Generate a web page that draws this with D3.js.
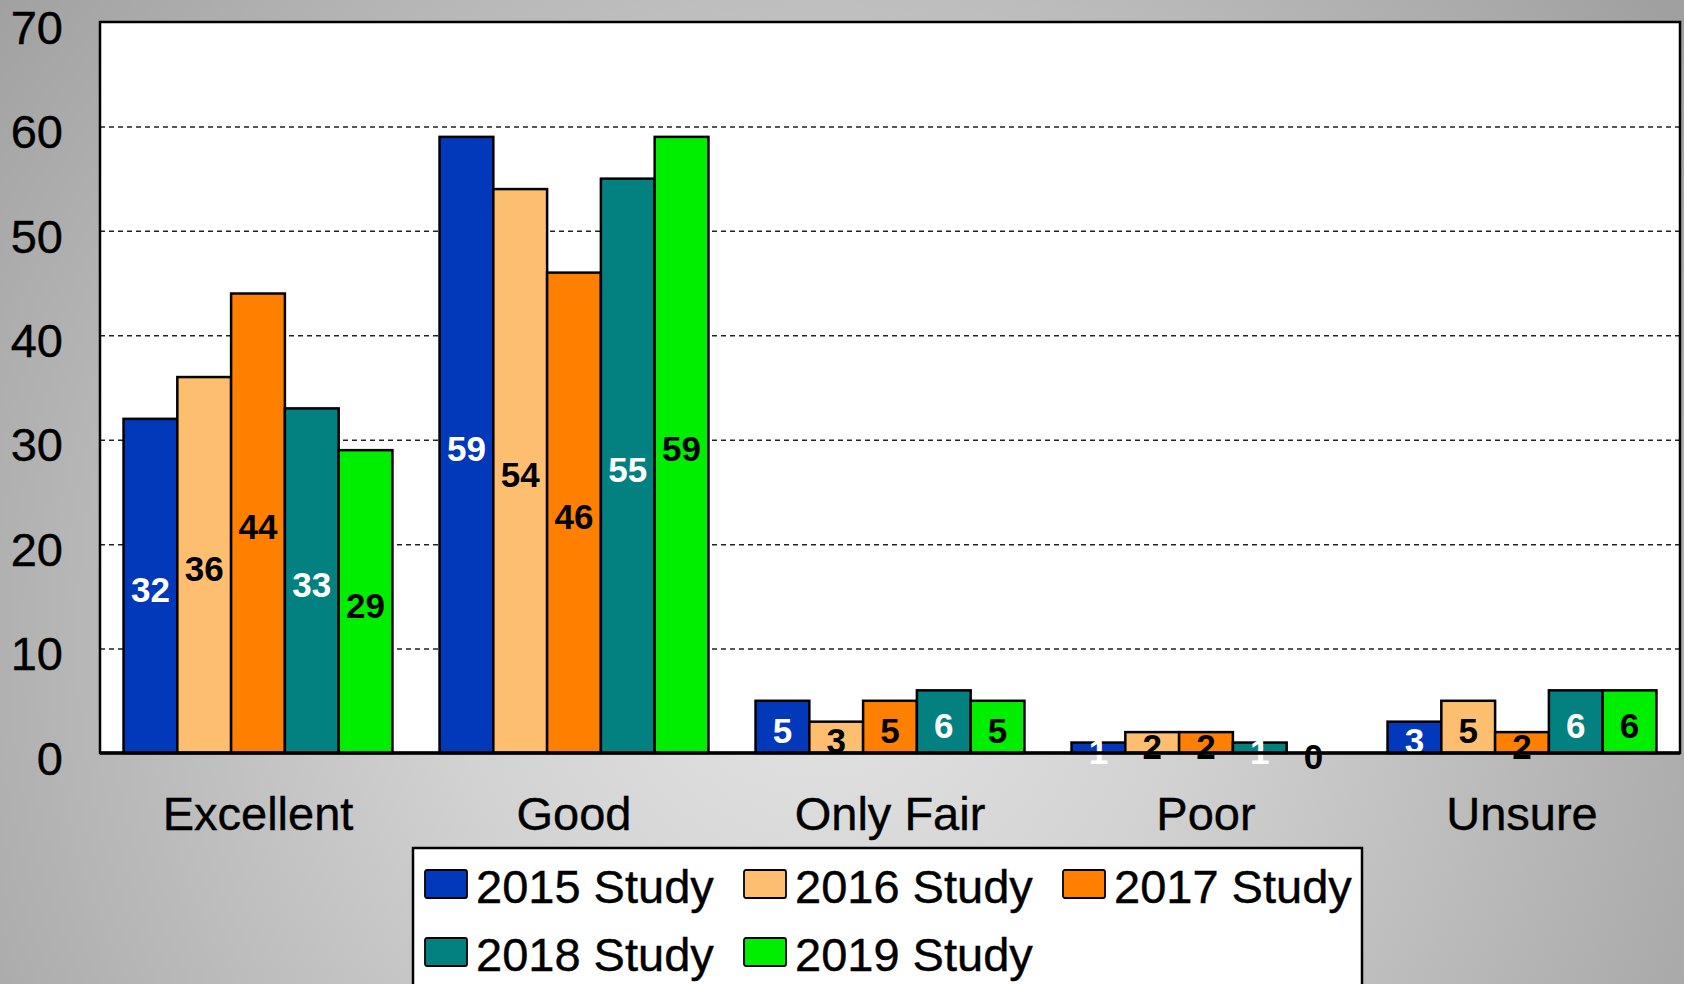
<!DOCTYPE html>
<html>
<head>
    <meta charset="UTF-8">
    <title>Study ratings 2015-2019</title>
    <script src="https://d3js.org/d3.v7.min.js"></script>
    <style>
        body { margin: 0; padding: 0; overflow: hidden; }
        svg { display: block; font-family: Arial, "Liberation Sans", sans-serif; }
        .grid line { stroke: #222; stroke-width: 1.5px; stroke-dasharray: 5 4; }
        .grid path { display: none; }
        .axis path { display: none; }
        .axis text { font-size: 47px; fill: #000; stroke: #000; stroke-width: 0.4px; }
        .val { font-size: 35px; font-weight: bold; text-anchor: middle; }
        .leg text { font-size: 47px; fill: #000; stroke: #000; stroke-width: 0.4px; }
    </style>
</head>
<body>
<svg id="chart" width="1684" height="984"></svg>
<script>
    // 数据
    const categories = ["Excellent", "Good", "Only Fair", "Poor", "Unsure"];
    const series = ["2015 Study", "2016 Study", "2017 Study", "2018 Study", "2019 Study"];
    const values2015 = [32, 59, 5, 1, 3];
    const values2016 = [36, 54, 3, 2, 5];
    const values2017 = [44, 46, 5, 2, 2];
    const values2018 = [33, 55, 6, 1, 6];
    const values2019 = [29, 59, 5, 0, 6];
    const yTicks = [0, 10, 20, 30, 40, 50, 60, 70];

    const colors = ["#0238BA", "#FDBF6F", "#FF8000", "#038080", "#00EE00"];
    const labelColors = ["#fff", "#000", "#000", "#fff", "#000"];
    const seriesValues = [values2015, values2016, values2017, values2018, values2019];

    const svg = d3.select("#chart");
    const W = 1684, H = 984;
    const plot = { left: 100, top: 22, right: 1680, bottom: 753 };

    // 背景渐变
    const defs = svg.append("defs");
    const grad = defs.append("radialGradient")
        .attr("id", "bg").attr("gradientUnits", "userSpaceOnUse")
        .attr("cx", 820).attr("cy", 640).attr("r", 1050);
    grad.append("stop").attr("offset", "0%").attr("stop-color", "#e4e4e4");
    grad.append("stop").attr("offset", "35%").attr("stop-color", "#d2d2d2");
    grad.append("stop").attr("offset", "100%").attr("stop-color", "#a0a0a0");
    svg.append("rect").attr("width", W).attr("height", H).attr("fill", "url(#bg)");

    // 比例尺
    const x0 = d3.scaleBand(categories, [plot.left, plot.right])
        .paddingInner(0.149).paddingOuter(0.0745);
    const x1 = d3.scaleBand(series, [0, x0.bandwidth()]);
    const y = d3.scaleLinear([0, 70], [plot.bottom, plot.top]);

    // 绘图区
    svg.append("rect")
        .attr("x", plot.left).attr("y", y(70))
        .attr("width", plot.right - plot.left).attr("height", y(0) - y(70))
        .attr("fill", "#fff");

    // 网格线
    svg.append("g").attr("class", "grid")
        .attr("transform", `translate(${plot.left},0)`)
        .call(d3.axisLeft(y).tickValues(yTicks.slice(1, -1)).tickSize(-(plot.right - plot.left)).tickFormat(""));

    // 柱
    const rows = categories.map((c, i) => ({
        cat: c,
        vals: series.map((s, j) => ({ s, j, v: seriesValues[j][i] }))
    }));

    const groups = svg.append("g").selectAll("g")
        .data(rows).join("g")
        .attr("transform", d => `translate(${x0(d.cat)},0)`);

    groups.selectAll("rect")
        .data(d => d.vals.filter(e => e.v > 0)).join("rect")
        .attr("x", d => x1(d.s))
        .attr("y", d => y(d.v))
        .attr("width", x1.bandwidth())
        .attr("height", d => y(0) - y(d.v))
        .attr("fill", d => colors[d.j])
        .attr("stroke", "#000")
        .attr("stroke-width", 2.5);

    // 边框
    svg.append("rect")
        .attr("x", plot.left).attr("y", y(70))
        .attr("width", plot.right - plot.left).attr("height", y(0) - y(70))
        .attr("fill", "none").attr("stroke", "#000").attr("stroke-width", 2.5);
    svg.append("line")
        .attr("x1", plot.left).attr("x2", plot.right)
        .attr("y1", y(0)).attr("y2", y(0))
        .attr("stroke", "#000").attr("stroke-width", 3.5);

    // 数值标签
    groups.selectAll("text")
        .data(d => d.vals).join("text")
        .attr("class", "val")
        .attr("x", d => x1(d.s) + x1.bandwidth() / 2)
        .attr("y", d => (y(d.v) + y(0)) / 2 + 16)
        .attr("fill", d => labelColors[d.j])
        .text(d => d.v);

    // Y 轴
    svg.append("g").attr("class", "axis")
        .attr("transform", `translate(${plot.left},0)`)
        .call(d3.axisLeft(y).tickValues(yTicks).tickSize(0).tickPadding(37))
        .selectAll("text").attr("dy", "0.45em");

    // X 轴
    svg.append("g").attr("class", "axis")
        .attr("transform", `translate(0,${plot.bottom})`)
        .call(d3.axisBottom(x0).tickSize(0).tickPadding(44));

    // 图例
    const leg = svg.append("g").attr("class", "leg");
    leg.append("rect")
        .attr("x", 413).attr("y", 848).attr("width", 949).attr("height", 160)
        .attr("fill", "#fff").attr("stroke", "#000").attr("stroke-width", 2.5);

    const item = leg.selectAll("g.item")
        .data(series).join("g")
        .attr("class", "item")
        .attr("transform", (d, i) => `translate(${425 + (i % 3) * 319},${870 + Math.floor(i / 3) * 68})`);
    item.append("rect")
        .attr("width", 42).attr("height", 28).attr("rx", 2)
        .attr("fill", (d, i) => colors[i])
        .attr("stroke", "#000").attr("stroke-width", 1.8);
    item.append("text")
        .attr("x", 51).attr("y", 33)
        .text(d => d);
</script>
</body>
</html>
